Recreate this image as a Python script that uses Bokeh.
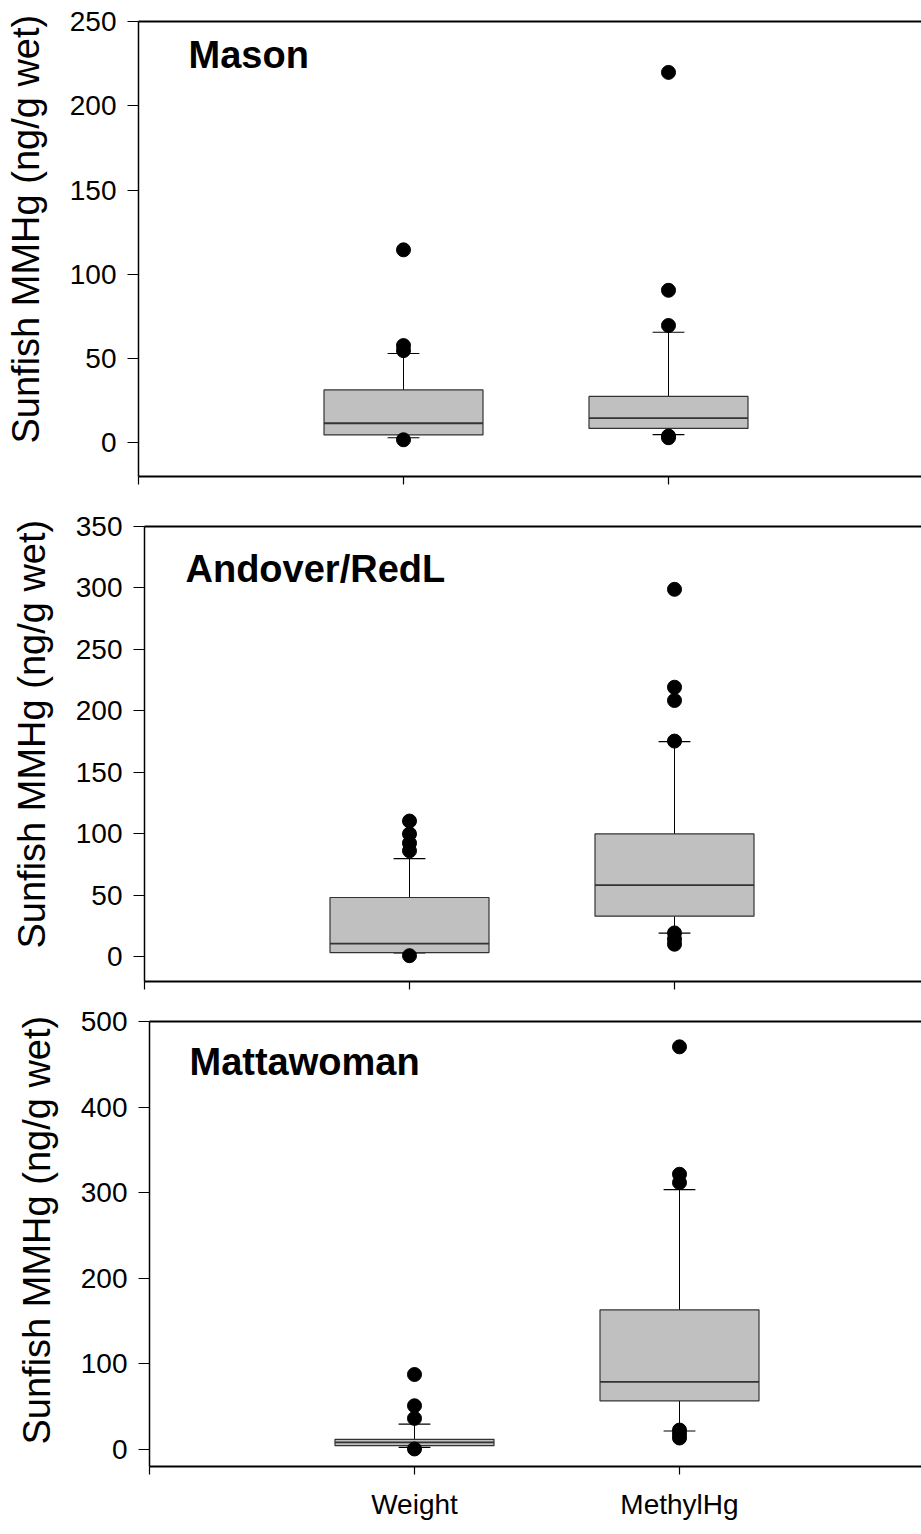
from bokeh.plotting import figure
from bokeh.models import Range1d, FixedTicker, LinearAxis, Label, Title
from bokeh.embed import file_html
from bokeh.resources import INLINE

# ---------------- data ----------------
categories = ["Weight", "MethylHg"]
cat_pos = [1, 2]
sites = ["Mason", "Andover/RedL", "Mattawoman"]
y_label = "Sunfish MMHg (ng/g wet)"

# Mason  [Weight, MethylHg]
mason_lower = [3.0, 4.9]
mason_q1 = [4.7, 8.5]
mason_median = [11.6, 14.6]
mason_q3 = [31.4, 27.5]
mason_upper = [53.0, 65.6]
mason_out_weight = [114.5, 57.7, 54.7, 1.8]
mason_out_methyl = [219.8, 90.5, 69.6, 3.0, 4.0]
mason_yticks = [0, 50, 100, 150, 200, 250]
mason_yrange = (-20, 250)

# Andover/RedL
andover_lower = [3.3, 19.3]
andover_q1 = [3.5, 33.1]
andover_median = [10.8, 58.4]
andover_q3 = [48.3, 100.0]
andover_upper = [80.0, 175.0]
andover_out_weight = [110.5, 100.0, 92.5, 86.3, 1.0]
andover_out_methyl = [298.9, 219.3, 208.5, 175.5, 19.5, 14.4, 10.3]
andover_yticks = [0, 50, 100, 150, 200, 250, 300, 350]
andover_yrange = (-20, 350)

# Mattawoman
matta_lower = [2.3, 21.5]
matta_q1 = [4.3, 56.8]
matta_median = [8.2, 79.0]
matta_q3 = [11.7, 163.0]
matta_upper = [29.6, 303.5]
matta_out_weight = [87.5, 51.0, 36.2, 0.5]
matta_out_methyl = [470.4, 321.5, 311.7, 22.6, 17.9, 13.3]
matta_yticks = [0, 100, 200, 300, 400, 500]
matta_yrange = (-20, 500)

# ---------------- styling ----------------
FONT = "Liberation Sans"
BOX_FILL = "#c0c0c0"
BOX_W = 0.6
CAP_W = 0.12
PX_PER_CAT = 265.0
WIN_W = 921


def make_panel(site, lower, q1, med, q3, upper, out_w, out_m, yticks, yrange,
               left, top_b, bottom_b, height, title_dx, title_dy_px,
               ylabel_offset, show_labels):
    frame_w = WIN_W - left
    frame_h = height - top_b - bottom_b
    ymin, ymax = yrange
    xr = Range1d(0, frame_w / PX_PER_CAT)
    p = figure(width=WIN_W, height=height, x_range=xr,
               y_range=Range1d(ymin, ymax), output_backend="svg",
               toolbar_location=None, min_border_left=left,
               min_border_right=0, min_border_top=top_b,
               min_border_bottom=bottom_b)
    p.outline_line_color = None
    p.xgrid.visible = False
    p.ygrid.visible = False
    p.background_fill_color = "white"
    p.border_fill_color = "white"

    xs = cat_pos
    # whiskers
    p.segment(x0=xs, x1=xs, y0=q3, y1=upper, line_color="black", line_width=1)
    p.segment(x0=xs, x1=xs, y0=lower, y1=q1, line_color="black", line_width=1)
    # caps
    p.segment(x0=[x - CAP_W / 2 for x in xs], x1=[x + CAP_W / 2 for x in xs],
              y0=upper, y1=upper, line_color="black", line_width=1.2)
    p.segment(x0=[x - CAP_W / 2 for x in xs], x1=[x + CAP_W / 2 for x in xs],
              y0=lower, y1=lower, line_color="black", line_width=1.2)
    # boxes
    p.vbar(x=xs, width=BOX_W, bottom=q1, top=q3, fill_color=BOX_FILL,
           line_color="#333333", line_width=1.2)
    # medians
    p.segment(x0=[x - BOX_W / 2 for x in xs], x1=[x + BOX_W / 2 for x in xs],
              y0=med, y1=med, line_color="#333333", line_width=1.8)
    # outliers
    p.scatter(x=[xs[0]] * len(out_w), y=out_w, size=14, marker="circle",
              fill_color="black", line_color="black")
    p.scatter(x=[xs[1]] * len(out_m), y=out_m, size=14, marker="circle",
              fill_color="black", line_color="black")

    # y axis
    ya = p.yaxis[0]
    ya.ticker = FixedTicker(ticks=yticks)
    ya.minor_tick_line_color = None
    ya.major_tick_in = 0
    ya.major_tick_out = 11
    ya.major_label_standoff = 11
    ya.major_label_text_font = FONT
    ya.major_label_text_font_size = "28px"
    ya.major_label_text_color = "black"
    ya.axis_line_width = 1.5
    ya.axis_line_color = "black"
    ya.major_tick_line_color = "black"
    ya.major_tick_line_width = 1.2
    # blank axis label used only as a spacer between tick labels and title
    ya.axis_label = " "
    ya.axis_label_standoff = 1
    ya.axis_label_text_font = FONT
    ya.axis_label_text_font_size = "13px"

    # x axis
    xa = p.xaxis[0]
    xa.ticker = FixedTicker(ticks=[0, 1, 2, 3])
    xa.minor_tick_line_color = None
    xa.major_tick_in = 0
    xa.major_tick_out = 8
    xa.axis_line_width = 1.8
    xa.axis_line_color = "black"
    xa.major_tick_line_color = "black"
    xa.major_tick_line_width = 1.2
    if show_labels:
        xa.major_label_overrides = {0: "", 1: categories[0], 2: categories[1], 3: ""}
        xa.major_label_text_font = FONT
        xa.major_label_text_font_size = "28px"
        xa.major_label_text_color = "black"
        xa.major_label_standoff = 14
    else:
        xa.major_label_overrides = {0: "", 1: "", 2: "", 3: ""}
        xa.major_label_text_font_size = "0px"
        xa.major_label_standoff = 0

    # top border line
    top_ax = LinearAxis(ticker=FixedTicker(ticks=[]), axis_line_width=1.8,
                        axis_line_color="black", major_tick_out=0,
                        major_tick_in=0, minor_tick_line_color=None,
                        major_label_text_font_size="0px",
                        major_label_standoff=0)
    p.add_layout(top_ax, "above")

    # y axis title (starts ylabel_offset px above the frame bottom)
    p.add_layout(Title(text=y_label, align="left", offset=ylabel_offset,
                       standoff=2, text_font=FONT, text_font_size="38px",
                       text_font_style="normal", text_color="black"), "left")

    # site title
    scale = frame_h / (ymax - ymin)
    p.add_layout(Label(x=title_dx / PX_PER_CAT,
                       y=ymax - title_dy_px / scale, text=site,
                       text_font=FONT, text_font_size="38px",
                       text_font_style="bold", text_color="black",
                       text_align="left", text_baseline="alphabetic"))
    return p


p1 = make_panel(sites[0], mason_lower, mason_q1, mason_median, mason_q3,
                mason_upper, mason_out_weight, mason_out_methyl, mason_yticks,
                mason_yrange, left=138, top_b=21, bottom_b=24, height=500,
                title_dx=50, title_dy_px=33, ylabel_offset=33,
                show_labels=False)
p2 = make_panel(sites[1], andover_lower, andover_q1, andover_median,
                andover_q3, andover_upper, andover_out_weight,
                andover_out_methyl, andover_yticks, andover_yrange, left=144,
                top_b=26, bottom_b=19, height=500, title_dx=41,
                title_dy_px=42, ylabel_offset=33, show_labels=False)
p3 = make_panel(sites[2], matta_lower, matta_q1, matta_median, matta_q3,
                matta_upper, matta_out_weight, matta_out_methyl, matta_yticks,
                matta_yrange, left=149, top_b=21, bottom_b=68, height=534,
                title_dx=40, title_dy_px=40, ylabel_offset=22,
                show_labels=True)

open("out.html", "w").write(file_html([p1, p2, p3], INLINE))
